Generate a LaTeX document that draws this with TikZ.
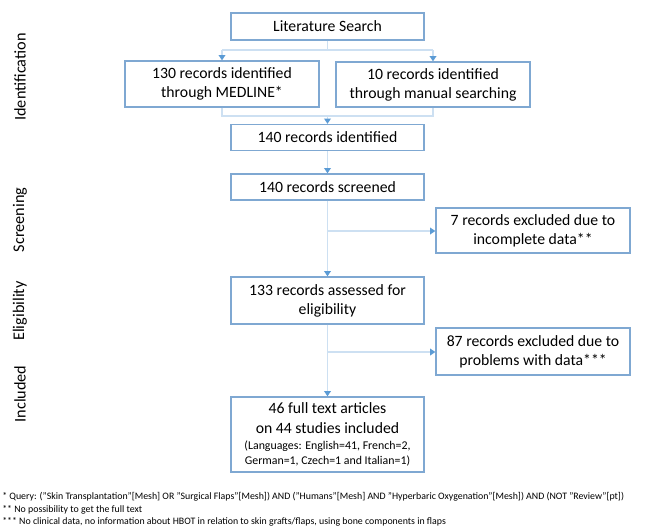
\documentclass[tikz,border=0pt]{standalone}
\usepackage{fontspec}
\setmainfont{Carlito}
\usetikzlibrary{arrows.meta}
\definecolor{boxblue}{RGB}{127,168,210}
\definecolor{lineblue}{RGB}{205,224,242}
\definecolor{tipblue}{RGB}{91,155,213}
\newcommand{\langsize}{\fontsize{8.9}{11.3}\selectfont}
\tikzset{
  stagebox/.style={draw=boxblue, line width=0.9pt, fill=white, inner sep=0pt,
    align=center, font=\fontsize{11.8}{14.25}\selectfont},
  conn/.style={draw=lineblue, line width=1.4pt},
  arr/.style={conn, -{Triangle[color=tipblue, length=4pt, width=5pt]}},
  side/.style={rotate=90, font=\fontsize{12.2}{14}\selectfont, anchor=center},
  foot/.style={anchor=west, inner sep=0pt, font=\fontsize{7.4}{9}\selectfont},
}
\begin{document}
\begin{tikzpicture}[x=0.75pt,y=-0.75pt]
\useasboundingbox (0,0) rectangle (645,529);
% boxes
\node[stagebox, minimum width=193*0.75pt, minimum height=27*0.75pt] (lit) at (327.5,26.5) {Literature Search};
\node[stagebox, minimum width=194*0.75pt, minimum height=46*0.75pt] (med) at (222,84) {130 records identified\\through MEDLINE*};
\node[stagebox, minimum width=194*0.75pt, minimum height=45*0.75pt] (man) at (433,84.5) {10 records identified\\through manual searching};
\node[stagebox, minimum width=193*0.75pt, minimum height=26*0.75pt] (ident) at (327.5,137.5) {140 records identified};
\node[stagebox, minimum width=193*0.75pt, minimum height=26*0.75pt] (screen) at (327.5,187) {140 records screened};
\node[stagebox, minimum width=194*0.75pt, minimum height=45*0.75pt] (ex1) at (533,230.5) {7 records excluded due to\\incomplete data**};
\node[stagebox, minimum width=193*0.75pt, minimum height=47*0.75pt] (elig) at (327.5,300.5) {133 records assessed for\\eligibility};
\node[stagebox, minimum width=194*0.75pt, minimum height=47*0.75pt] (ex2) at (533,351.5) {87 records excluded due to\\problems with data***};
\node[stagebox, minimum width=193*0.75pt, minimum height=75*0.75pt] (incl) at (327.5,434.5)
  {46 full text articles\\[0.75pt]on 44 studies included\\[-2.25pt]
   \langsize (Languages: English=41, French=2,\\[-3pt]
   \langsize German=1, Czech=1 and Italian=1)};
% connectors
\coordinate (j1) at (327.5,50);
\coordinate (j2) at (327.5,116);
\coordinate (j3) at (327.5,231);
\coordinate (j4) at (327.5,352);
\draw[conn] (lit.south) -- (j1);
\draw[conn] (med.north |- j1) -- (man.north |- j1);
\draw[arr] (med.north |- j1) -- (med.north);
\draw[arr] (man.north |- j1) -- (man.north);
\draw[conn] (med.south) -- (med.south |- j2) -- (man.south |- j2) -- (man.south);
\draw[arr] (j2) -- (ident.north);
\draw[arr] (ident.south) -- (screen.north);
\draw[arr] (screen.south) -- (elig.north);
\draw[arr] (j3) -- (ex1.west |- j3);
\draw[arr] (elig.south) -- (incl.north);
\draw[arr] (j4) -- (ex2.west |- j4);
% side labels
\node[side] (lid) at (20,77) {Identification};
\node[side] (lsc) at (20,220) {Screening};
\node[side] (lel) at (20,311) {Eligibility};
\node[side] (lin) at (20,394) {Included};
% footnotes
\node[foot] (f1) at (2,497) {* Query: ("Skin Transplantation"[Mesh] OR "Surgical Flaps"[Mesh]) AND ("Humans"[Mesh] AND "Hyperbaric Oxygenation"[Mesh]) AND (NOT "Review"[pt])};
\node[foot] (f2) at (2,510) {** No possibility to get the full text};
\node[foot] (f3) at (2,522) {*** No clinical data, no information about HBOT in relation to skin grafts/flaps, using bone components in flaps};
\end{tikzpicture}
\end{document}
